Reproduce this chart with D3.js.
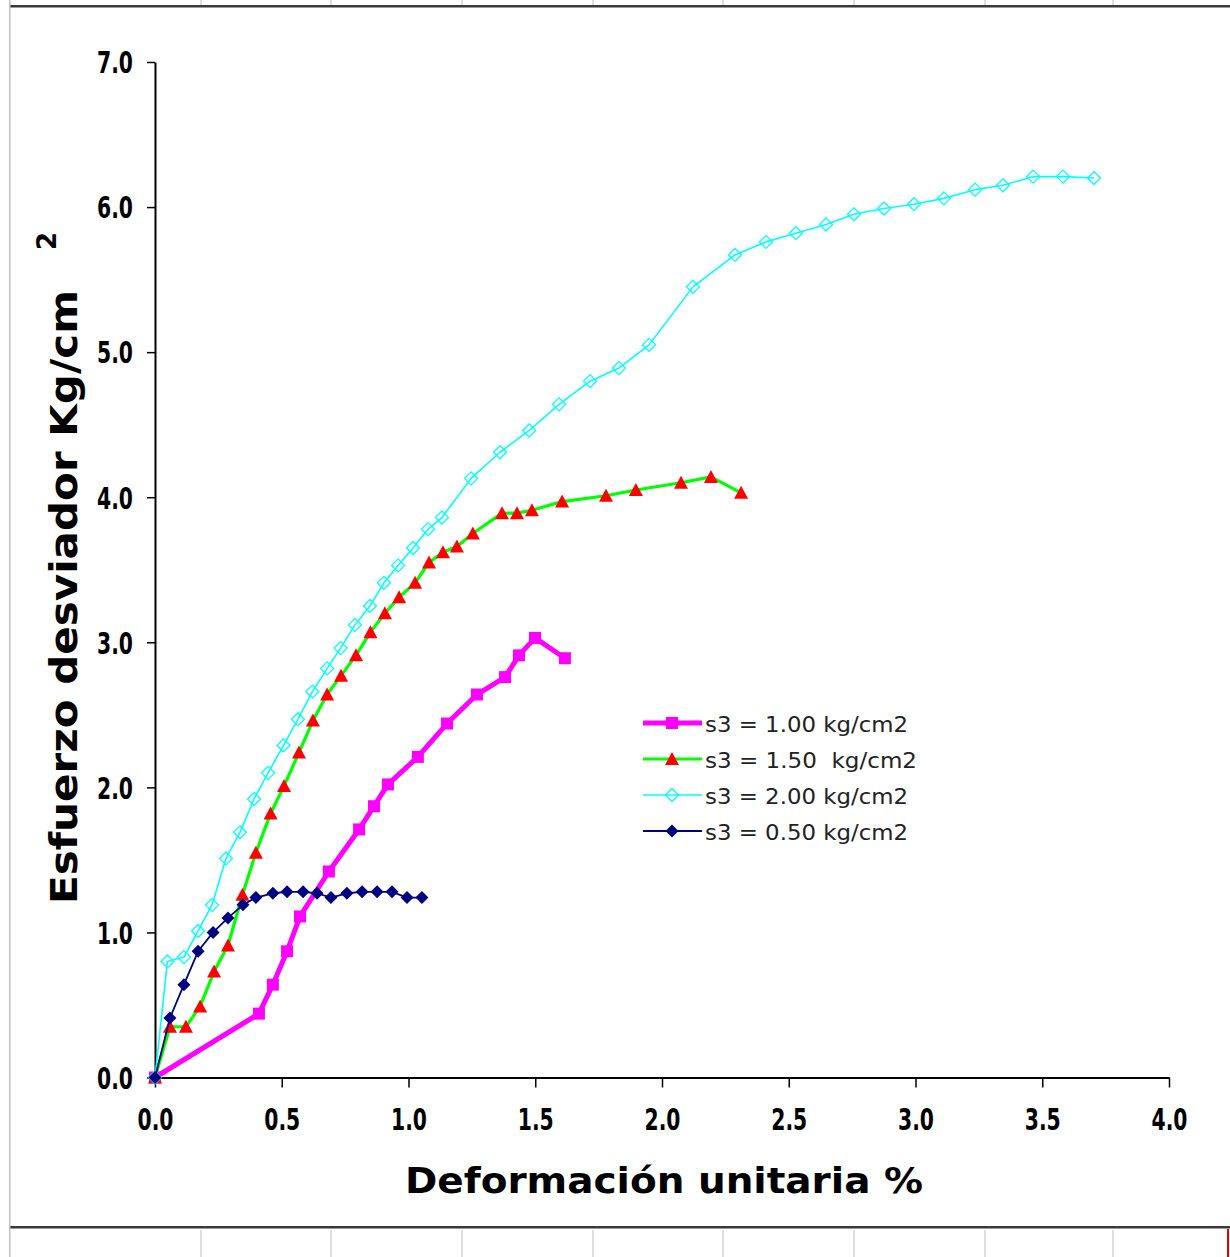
<!DOCTYPE html>
<html><head><meta charset="utf-8">
<script src="https://cdn.jsdelivr.net/npm/d3@7"></script>
<style>html,body{margin:0;padding:0;background:#fff;overflow:hidden}svg{display:block}</style>
</head><body>
<script>
// ---- data ----
const xTicks = [0, 0.5, 1.0, 1.5, 2.0, 2.5, 3.0, 3.5, 4.0];
const yTicks = [0, 1, 2, 3, 4, 5, 6, 7];
const xTitle = "Deformación unitaria %";
const yTitle = "Esfuerzo desviador Kg/cm";
const yTitleSup = "2";
const seriesNames = ["s3 = 1.00 kg/cm2", "s3 = 1.50  kg/cm2", "s3 = 2.00 kg/cm2", "s3 = 0.50 kg/cm2"];

const s100x = [0, 0.410, 0.465, 0.521, 0.572, 0.686, 0.805, 0.864, 0.919, 1.037, 1.152, 1.270, 1.381, 1.436, 1.499, 1.617];
const s100y = [0, 0.44, 0.64, 0.87, 1.11, 1.42, 1.71, 1.87, 2.02, 2.21, 2.44, 2.64, 2.76, 2.91, 3.03, 2.89];

const s150x = [0, 0.059, 0.122, 0.178, 0.233, 0.288, 0.345, 0.398, 0.456, 0.509, 0.568, 0.623, 0.679, 0.734, 0.793, 0.850, 0.907, 0.963, 1.026, 1.081, 1.136, 1.191, 1.254, 1.369, 1.428, 1.487, 1.606, 1.779, 1.897, 2.075, 2.193, 2.312];
const s150y = [0, 0.35, 0.35, 0.49, 0.73, 0.91, 1.26, 1.55, 1.82, 2.01, 2.24, 2.46, 2.64, 2.77, 2.91, 3.07, 3.20, 3.31, 3.41, 3.55, 3.62, 3.66, 3.75, 3.89, 3.89, 3.91, 3.97, 4.01, 4.05, 4.10, 4.14, 4.03];

const s200x = [0, 0.049, 0.114, 0.170, 0.225, 0.280, 0.335, 0.391, 0.446, 0.507, 0.564, 0.621, 0.679, 0.732, 0.789, 0.848, 0.903, 0.959, 1.018, 1.077, 1.132, 1.247, 1.361, 1.476, 1.594, 1.716, 1.830, 1.949, 2.122, 2.288, 2.410, 2.528, 2.647, 2.757, 2.876, 2.994, 3.112, 3.235, 3.345, 3.464, 3.582, 3.704];
const s200y = [0, 0.80, 0.83, 1.01, 1.19, 1.51, 1.69, 1.92, 2.10, 2.29, 2.47, 2.66, 2.82, 2.96, 3.12, 3.25, 3.41, 3.53, 3.65, 3.78, 3.86, 4.13, 4.31, 4.46, 4.64, 4.80, 4.89, 5.05, 5.45, 5.67, 5.76, 5.82, 5.88, 5.95, 5.99, 6.02, 6.06, 6.12, 6.15, 6.21, 6.21, 6.20];

const s050x = [0, 0.059, 0.114, 0.170, 0.229, 0.288, 0.347, 0.398, 0.465, 0.521, 0.584, 0.639, 0.694, 0.757, 0.817, 0.876, 0.935, 0.994, 1.053];
const s050y = [0, 0.41, 0.64, 0.87, 1.00, 1.10, 1.19, 1.24, 1.27, 1.28, 1.28, 1.27, 1.24, 1.27, 1.28, 1.28, 1.28, 1.24, 1.24];

// spreadsheet cell borders around the embedded chart (decoration)
const sheetCols = [201, 331, 462, 593, 723, 854, 985, 1113];

// ---- build ----
const W = 1230, H = 1257;
const svg = d3.select("body").append("svg").attr("width", W).attr("height", H);
svg.append("rect").attr("width", W).attr("height", H).attr("fill", "#fff");

// sheet frame
const frame = svg.append("g");
frame.selectAll("line.ct").data(sheetCols).join("line")
  .attr("x1", d => d).attr("x2", d => d).attr("y1", 0).attr("y2", 5)
  .attr("stroke", "#c8c8c8").attr("stroke-width", 1.2);
frame.selectAll("line.cb").data(sheetCols).join("line")
  .attr("x1", d => d).attr("x2", d => d).attr("y1", 1230).attr("y2", H)
  .attr("stroke", "#c8c8c8").attr("stroke-width", 1.2);
frame.append("rect").attr("x", 9).attr("y", 5).attr("width", W - 9).attr("height", 2).attr("fill", "#3a3a3a");
frame.append("rect").attr("x", 9).attr("y", 7).attr("width", W - 9).attr("height", 1).attr("fill", "#9a9a9a");
frame.append("rect").attr("x", 9).attr("y", 1226).attr("width", W - 9).attr("height", 2).attr("fill", "#3a3a3a");
frame.append("rect").attr("x", 9).attr("y", 1228).attr("width", W - 9).attr("height", 1).attr("fill", "#9a9a9a");
frame.append("rect").attr("x", 9).attr("y", 0).attr("width", 1.5).attr("height", H).attr("fill", "#c0c0c0");
frame.append("rect").attr("x", 1227).attr("y", 1229).attr("width", 2).attr("height", H - 1229).attr("fill", "#e00000");

const x = d3.scaleLinear().domain([0, 4]).range([155, 1169]);
const y = d3.scaleLinear().domain([0, 7]).range([1077.5, 62]);

const tickFont = "'Liberation Sans Narrow','Arial Narrow','DejaVu Sans Condensed',sans-serif";

// y axis
const gy = svg.append("g").attr("transform", `translate(${x(0)},0)`)
  .call(d3.axisLeft(y).tickValues(yTicks).tickSize(8).tickSizeOuter(0).tickPadding(14).tickFormat(d3.format(".1f")));
gy.select(".domain").attr("stroke", "#000").attr("stroke-width", 2);
gy.selectAll(".tick line").attr("stroke", "#000").attr("stroke-width", 1.5);
gy.selectAll(".tick text").attr("font-family", tickFont).attr("font-weight", "bold")
  .attr("font-size", 30).attr("fill", "#000").attr("dy", "0.36em")
  .attr("textLength", 36).attr("lengthAdjust", "spacingAndGlyphs");

// x axis
const gx = svg.append("g").attr("transform", `translate(0,${y(0)})`)
  .call(d3.axisBottom(x).tickValues(xTicks).tickSize(10).tickSizeOuter(0).tickFormat(d3.format(".1f")));
gx.select(".domain").attr("stroke", "#000").attr("stroke-width", 2);
gx.selectAll(".tick line").attr("stroke", "#000").attr("stroke-width", 1.5);
gx.selectAll(".tick text").attr("font-family", tickFont).attr("font-weight", "bold")
  .attr("font-size", 30).attr("fill", "#000").attr("y", 52.5).attr("dy", 0)
  .attr("textLength", 36).attr("lengthAdjust", "spacingAndGlyphs");

// titles
svg.append("text").attr("x", 664).attr("y", 1193).attr("text-anchor", "middle")
  .attr("font-family", "'DejaVu Sans',Verdana,sans-serif").attr("font-weight", "bold").attr("font-size", 36)
  .attr("textLength", 518).attr("lengthAdjust", "spacingAndGlyphs").attr("fill", "#000").text(xTitle);
svg.append("text").attr("transform", "translate(77,597) rotate(-90)").attr("text-anchor", "middle")
  .attr("font-family", "'DejaVu Sans',Verdana,sans-serif").attr("font-weight", "bold").attr("font-size", 37)
  .attr("textLength", 614).attr("lengthAdjust", "spacingAndGlyphs").attr("fill", "#000").text(yTitle);
svg.append("text").attr("transform", "translate(56,241) rotate(-90)").attr("text-anchor", "middle")
  .attr("font-family", "'DejaVu Sans',Verdana,sans-serif").attr("font-weight", "bold").attr("font-size", 26)
  .attr("fill", "#000").text(yTitleSup);

// marker shapes
const shapes = {
  square: "M-6,-6H6V6H-6Z",
  triangle: "M0,-7L7,6H-7Z",
  diamond: "M0,-6.5L6.5,0L0,6.5L-6.5,0Z"
};

const series = [
  { name: seriesNames[0], xs: s100x, ys: s100y, line: "#ff00ff", lw: 5, shape: "square", fill: "#ff00ff", stroke: "none", tl: 203 },
  { name: seriesNames[1], xs: s150x, ys: s150y, line: "#00ff00", lw: 3.2, shape: "triangle", fill: "#ff0000", stroke: "none", tl: 212 },
  { name: seriesNames[2], xs: s200x, ys: s200y, line: "#00ffff", lw: 1.6, shape: "diamond", fill: "none", stroke: "#00ffff", tl: 203 },
  { name: seriesNames[3], xs: s050x, ys: s050y, line: "#000080", lw: 1.8, shape: "diamond", fill: "#000080", stroke: "none", tl: 203 }
];

const lineGen = d3.line().x(d => x(d[0])).y(d => y(d[1]));
series.forEach(s => {
  const pts = s.xs.map((v, i) => [v, s.ys[i]]);
  const g = svg.append("g");
  g.append("path").datum(pts).attr("d", lineGen).attr("fill", "none")
    .attr("stroke", s.line).attr("stroke-width", s.lw).attr("stroke-linejoin", "round");
  g.selectAll("path.m").data(pts).join("path").attr("class", "m")
    .attr("transform", d => `translate(${x(d[0])},${y(d[1])})`)
    .attr("d", shapes[s.shape]).attr("fill", s.fill).attr("stroke", s.stroke).attr("stroke-width", 1.3);
});

// legend
const leg = svg.append("g");
series.forEach((s, i) => {
  const ly = 723 + i * 36;
  leg.append("line").attr("x1", 643).attr("x2", 702).attr("y1", ly).attr("y2", ly)
    .attr("stroke", s.line).attr("stroke-width", s.lw);
  leg.append("path").attr("transform", `translate(672,${ly})`).attr("d", shapes[s.shape])
    .attr("fill", s.fill).attr("stroke", s.stroke).attr("stroke-width", 1.3);
  leg.append("text").attr("x", 705).attr("y", ly + 8.5).attr("font-family", "'DejaVu Sans',Verdana,sans-serif")
    .attr("font-size", 22).attr("fill", "#222").attr("xml:space", "preserve").style("white-space", "pre")
    .attr("textLength", s.tl).attr("lengthAdjust", "spacingAndGlyphs").text(s.name);
});
</script>
</body></html>
